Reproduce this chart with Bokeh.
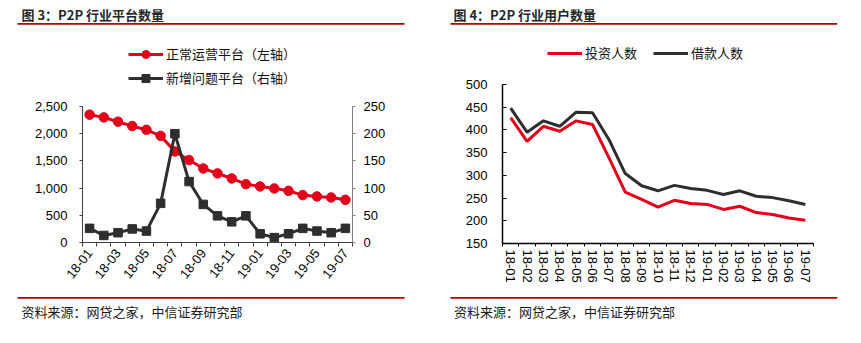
import math
from bokeh.plotting import figure
from bokeh.models import (Range1d, LinearAxis, FixedTicker, Label, Legend, LegendItem,
                          NumeralTickFormatter)
from bokeh.layouts import row, column
from bokeh.embed import file_html
from bokeh.resources import INLINE

# ---------------- data ----------------
months = ["18-01", "18-02", "18-03", "18-04", "18-05", "18-06", "18-07", "18-08",
          "18-09", "18-10", "18-11", "18-12", "19-01", "19-02", "19-03", "19-04",
          "19-05", "19-06", "19-07"]
normal_platforms = [2350, 2300, 2220, 2140, 2072, 1960, 1673, 1515, 1360, 1270,
                    1177, 1073, 1030, 993, 950, 871, 846, 827, 785]
problem_platforms = [26, 13, 18, 25, 21, 72, 200, 112, 70, 49, 38, 49, 16, 9, 16,
                     26, 21, 18, 26]
investors = [427, 375, 408, 397, 420, 412, 339, 263, 247, 230, 245, 238, 236, 225,
             232, 218, 214, 206, 201]
borrowers = [448, 395, 420, 408, 439, 438, 379, 304, 277, 266, 278, 271, 267, 258,
             266, 254, 251, 244, 236]
left_y_ticks = [0, 500, 1000, 1500, 2000, 2500]
right_y_ticks = [0, 50, 100, 150, 200, 250]
users_y_ticks = [150, 200, 250, 300, 350, 400, 450, 500]

title_left = "图 3：P2P 行业平台数量"
title_right = "图 4：P2P 行业用户数量"
source_text = "资料来源：网贷之家，中信证券研究部"
name_normal = "正常运营平台（左轴）"
name_problem = "新增问题平台（右轴）"
name_invest = "投资人数"
name_borrow = "借款人数"

RED = "#E2001A"
DARK = "#2E2E2E"
RULE = "#B40000"
CJK = "Noto Sans CJK SC"
LAT = "Liberation Sans"

xs = list(range(len(months)))
BOT_H = 50           # height of the source strip
SPLIT = 343 - BOT_H  # canvas y where the source strip begins


def blank_fig(W, Hh):
    """Decoration strip: its frame covers the whole strip, y runs downwards in px."""
    p = figure(width=W, height=Hh, x_range=Range1d(0, W), y_range=Range1d(Hh, 0),
               output_backend="svg", toolbar_location=None, x_axis_type=None,
               y_axis_type=None, min_border=0, min_border_left=0, min_border_right=0,
               min_border_top=0, min_border_bottom=0)
    p.outline_line_color = None
    return p


def text(p, x, y, s, size=13, bold=False, color="#1A1A1A"):
    p.add_layout(Label(x=x, y=y, text=s, text_font=CJK, text_font_size=f"{size}px",
                       text_font_style="bold" if bold else "normal",
                       text_color=color, text_align="left", text_baseline="middle"))


def rule(p, x0, x1, y):
    p.segment(x0=[x0], y0=[y], x1=[x1], y1=[y], line_color=RULE, line_width=1.7)


def chart_fig(W, Hh, fl, fr, ft, fb, yr):
    p = figure(width=W, height=Hh, x_range=Range1d(-0.5, len(months) - 0.5),
               y_range=yr, output_backend="svg", toolbar_location=None,
               x_axis_type=None, y_axis_type=None, min_border_left=fl,
               min_border_right=fr, min_border_top=ft, min_border_bottom=fb)
    p.outline_line_color = None
    return p


def style_axis(ax, color, size=13):
    ax.axis_line_color = color
    ax.major_tick_line_color = color
    ax.minor_tick_line_color = color
    ax.major_label_text_font = LAT
    ax.major_label_text_font_size = f"{size}px"
    ax.major_label_text_color = "#000000"


def make_legend(items, x, y_bottom_from_frame_bottom, orientation, spacing):
    return Legend(items=items, location=(x, y_bottom_from_frame_bottom),
                  orientation=orientation, padding=0, margin=0, spacing=spacing,
                  glyph_width=35, glyph_height=20, label_height=20, label_standoff=3,
                  border_line_color=None, background_fill_alpha=0,
                  label_text_font=CJK, label_text_font_size="13px",
                  label_text_color="#111111", click_policy="none")


# ================= left half =================
W1 = 430
TOP1 = 98                       # chart frame top at canvas y=106 (8 px border)
FL1, FR1, FT1 = 82, 78, 8
FB1 = SPLIT - 242               # chart frame bottom at canvas y=242
top1 = blank_fig(W1, TOP1)
text(top1, 21, 13.5, title_left, bold=True, color="#262626")
rule(top1, 17, 404, 23.3)
# legend sample glyphs (hidden renderers carrying the same data and styles)
lr1 = top1.line(xs, normal_platforms, line_color=RED, line_width=3, visible=False)
lp1 = top1.scatter(xs, normal_platforms, marker="circle", size=9.5, fill_color=RED,
                   line_color=RED, visible=False)
lr2 = top1.line(xs, problem_platforms, line_color=DARK, line_width=3, visible=False)
lp2 = top1.scatter(xs, problem_platforms, marker="square", size=8.5, fill_color=DARK,
                   line_color=DARK, visible=False)
top1.add_layout(make_legend([LegendItem(label=name_normal, renderers=[lr1, lp1]),
                             LegendItem(label=name_problem, renderers=[lr2, lp2])],
                            128, TOP1 - 87.5, "vertical", 4), "center")

p1 = chart_fig(W1, SPLIT - TOP1, FL1, FR1, FT1, FB1, Range1d(0, 2500))
p1.extra_y_ranges = {"right": Range1d(0, 250)}

ax_l = LinearAxis(ticker=FixedTicker(ticks=left_y_ticks),
                  formatter=NumeralTickFormatter(format="0,0"))
style_axis(ax_l, "#404040")
ax_l.major_tick_out = 3
ax_l.major_tick_in = 0
ax_l.minor_tick_out = 0
ax_l.major_label_standoff = 12
p1.add_layout(ax_l, "left")

ax_r = LinearAxis(y_range_name="right", ticker=FixedTicker(ticks=right_y_ticks))
style_axis(ax_r, "#7F7F7F")
ax_r.major_tick_out = 3
ax_r.major_tick_in = 0
ax_r.minor_tick_out = 0
ax_r.major_label_standoff = 8
p1.add_layout(ax_r, "right")

ax_b = LinearAxis(ticker=FixedTicker(ticks=xs[::2],
                                     minor_ticks=[i - 0.5 for i in range(len(months) + 1)]))
ax_b.major_label_overrides = {i: months[i] for i in xs}
style_axis(ax_b, "#404040")
ax_b.major_tick_out = 0
ax_b.major_tick_in = 0
ax_b.minor_tick_out = 4
ax_b.minor_tick_in = 0
ax_b.major_label_orientation = math.radians(52)
ax_b.major_label_standoff = 4
p1.add_layout(ax_b, "below")

p1.line(xs, normal_platforms, line_color=RED, line_width=3)
p1.scatter(xs, normal_platforms, marker="circle", size=9.5, fill_color=RED,
           line_color=RED)
p1.line(xs, problem_platforms, y_range_name="right", line_color=DARK, line_width=3)
p1.scatter(xs, problem_platforms, y_range_name="right", marker="square", size=8.5,
           fill_color=DARK, line_color=DARK)

bot1 = blank_fig(W1, BOT_H)
rule(bot1, 17, 404, 297.3 - SPLIT)
text(bot1, 21, 310.5 - SPLIT, source_text)

# ================= right half =================
W2 = 431
TOP2 = 76                       # chart frame top at canvas y=84
FL2, FR2, FT2 = 72, 48, 8
FB2 = SPLIT - 243
top2 = blank_fig(W2, TOP2)
text(top2, 23, 13.5, title_right, bold=True, color="#262626")
rule(top2, 20, 406.7, 23.3)
li1 = top2.line(xs, investors, line_color=RED, line_width=3, visible=False)
li2 = top2.line(xs, borrowers, line_color=DARK, line_width=3, visible=False)
top2.add_layout(make_legend([LegendItem(label=name_invest, renderers=[li1]),
                             LegendItem(label=name_borrow, renderers=[li2])],
                            117, TOP2 - 62.7, "horizontal", 16), "center")

p2 = chart_fig(W2, SPLIT - TOP2, FL2, FR2, FT2, FB2, Range1d(150, 500))

ay = LinearAxis(ticker=FixedTicker(ticks=users_y_ticks))
style_axis(ay, "#000000")
ay.axis_line_width = 1.5
ay.major_tick_in = 4
ay.major_tick_out = 0
ay.minor_tick_out = 0
ay.major_label_standoff = 15
p2.add_layout(ay, "left")

ax2 = LinearAxis(ticker=FixedTicker(ticks=xs,
                                    minor_ticks=[i - 0.5 for i in range(len(months) + 1)]))
ax2.major_label_overrides = {i: months[i] for i in xs}
style_axis(ax2, "#000000")
ax2.axis_line_width = 1.5
ax2.major_tick_out = 0
ax2.major_tick_in = 0
ax2.minor_tick_out = 3
ax2.minor_tick_in = 0
ax2.major_label_orientation = "vertical"
ax2.major_label_standoff = 3
p2.add_layout(ax2, "below")

p2.line(xs, investors, line_color=RED, line_width=3)
p2.line(xs, borrowers, line_color=DARK, line_width=3)

bot2 = blank_fig(W2, BOT_H)
rule(bot2, 20, 406.7, 297.3 - SPLIT)
text(bot2, 23.5, 310.5 - SPLIT, source_text)

# each chart is wrapped in its own row so that its frame is not aligned with the strips
layout = row(column(top1, row(p1), bot1, spacing=0),
             column(top2, row(p2), bot2, spacing=0), spacing=0)
with open("out.html", "w") as f:
    f.write(file_html(layout, INLINE))
